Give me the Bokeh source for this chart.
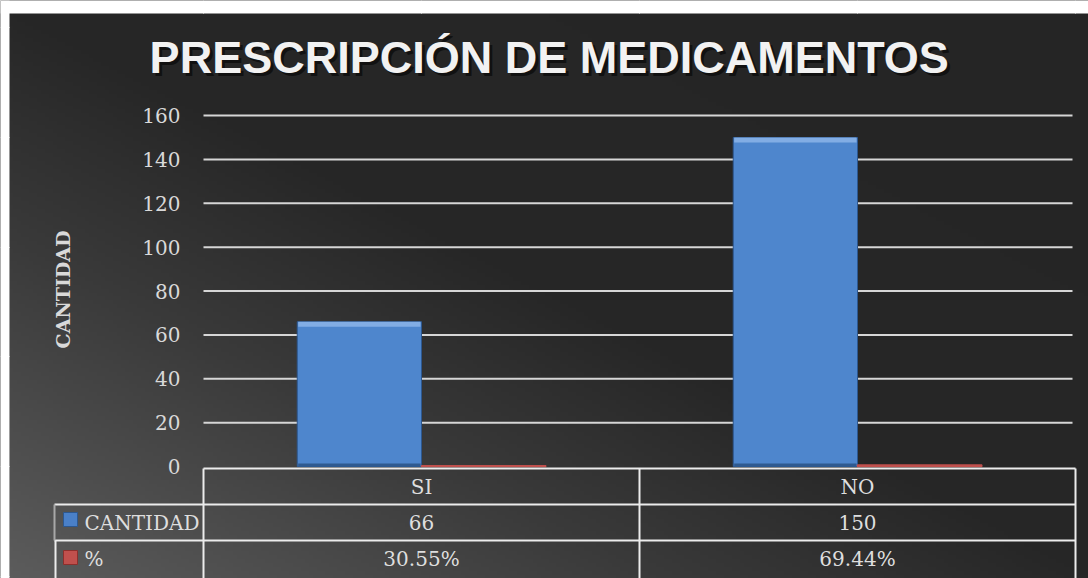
import numpy as np
from bokeh.plotting import figure
from bokeh.models import Range1d, LinearAxis, FixedTicker
from bokeh.core.properties import value
from bokeh.embed import file_html
from bokeh.resources import INLINE

# ---------------- data ----------------
categories = ["SI", "NO"]
cantidad = [66, 150]
porcentaje = [0.3055, 0.6944]
pct_labels = ["30.55%", "69.44%"]
series_names = ["CANTIDAD", "%"]
y_ticks = [0, 20, 40, 60, 80, 100, 120, 140, 160]
title_text = "PRESCRIPCIÓN  DE MEDICAMENTOS"
y_label = "CANTIDAD"

# ---------------- layout (page pixels -> data units) ----------------
W, H = 1088, 578
PAGE_X0, PAGE_Y0 = 0, 0
ZERO_X, CAT_PX = 203, 436      # page x of category axis start, px per category
ZERO_Y, UNIT_PX = 466, 2.193   # page y of value 0, px per value unit


def dx(px):
    return (px - ZERO_X) / CAT_PX


def dy(py):
    return (ZERO_Y - py) / UNIT_PX


x0, x1 = dx(PAGE_X0), dx(PAGE_X0 + W)
y0, y1 = dy(PAGE_Y0 + H), dy(PAGE_Y0)

p = figure(width=W, height=H, x_range=Range1d(x0, x1), y_range=Range1d(y0, y1),
           output_backend="svg", toolbar_location=None,
           x_axis_location=None, y_axis_location=None, min_border=0,
           outline_line_color=None, border_fill_color="#2a2a2a",
           background_fill_color="#2a2a2a")
p.title.visible = False

# background gradient (lighter bottom-left, dark top-right)
cx0, cy0 = dx(9), dy(13)
ny, nx = 142, 270
gx = np.linspace(0, 1, nx)[None, :]
gy = np.linspace(0, 1, ny)[:, None]
shade = np.interp(gx + gy, [0, 0.6, 1.0, 2.0], [92, 58, 39, 37]).astype(np.uint8)
img = np.empty((ny, nx), dtype=np.uint32)
view = img.view(dtype=np.uint8).reshape((ny, nx, 4))
view[..., 0] = shade
view[..., 1] = shade
view[..., 2] = shade
view[..., 3] = 255
p.image_rgba(image=[img], x=cx0, y=y0, dw=x1 - cx0, dh=cy0 - y0)

# white page around the chart (top and left)
p.quad(left=[x0, x0], right=[x1, cx0], bottom=[cy0, y0], top=[y1, y1],
       fill_color="white", line_color=None)

# horizontal gridlines
gt = y_ticks[1:]
p.segment(x0=[0] * len(gt), y0=gt, x1=[dx(1072)] * len(gt), y1=gt,
          line_color="#d6d6d6", line_width=2)

# bars
n = len(categories)
xs = np.arange(n) + 0.5
bw = 0.285
p.vbar(x=xs - bw / 2, top=cantidad, bottom=0, width=bw,
       fill_color="#4e86cd", line_color="#2d5890", line_width=1)
# bevel highlight / shadow strips
p.vbar(x=xs - bw / 2, top=cantidad, bottom=[v - 5 / UNIT_PX for v in cantidad],
       width=bw * 0.985, fill_color="#82ade4", line_color=None)
p.vbar(x=xs - bw / 2, top=[3 / UNIT_PX] * n, bottom=0, width=bw * 0.985,
       fill_color="#2f5a90", line_color=None)
p.vbar(x=xs + bw / 2, top=porcentaje, bottom=0, width=bw,
       fill_color="#c0504d", line_color="#c0504d", line_width=1.5)

# data table
lc = "#ececec"
r_top, r1, r2 = dy(468), dy(504), dy(540)
p.segment(x0=[0, dx(54), dx(54)], y0=[r_top, r1, r2], x1=[n, n, n], y1=[r_top, r1, r2],
          line_color=lc, line_width=2)
vx = list(range(n + 1))
p.segment(x0=vx, y0=[r_top] * len(vx), x1=vx, y1=[y0] * len(vx), line_color=lc, line_width=2)
p.segment(x0=[dx(54)], y0=[r1], x1=[dx(54)], y1=[r2], line_color="#a8a8a8", line_width=2)
p.segment(x0=[dx(55)], y0=[r2], x1=[dx(55)], y1=[y0], line_color=lc, line_width=2)

serif = value("DejaVu Serif")
tcol = "#dedede"
p.text(x=xs, y=[dy(486)] * n, text=categories, text_font=serif, text_font_size="20px",
       text_color=tcol, text_align="center", text_baseline="middle")
p.text(x=xs, y=[dy(522)] * n, text=[str(v) for v in cantidad], text_font=serif,
       text_font_size="20px", text_color=tcol, text_align="center", text_baseline="middle")
p.text(x=xs, y=[dy(558)] * n, text=pct_labels, text_font=serif, text_font_size="20px",
       text_color=tcol, text_align="center", text_baseline="middle")
p.text(x=[dx(84)] * 2, y=[dy(522), dy(558)], text=series_names, text_font=serif,
       text_font_size="20px", text_color=tcol, text_align="left", text_baseline="middle")
p.scatter(x=[dx(70)] * 2, y=[dy(519), dy(557)], marker="square", size=14,
          fill_color=["#4a80c8", "#c0504d"], line_color=["#2d5890", "#8c2f2c"], line_width=1)

# title with shadow
tx, ty = dx(555), dy(57)
p.text(x=[tx], y=[ty], text=[title_text], x_offset=3, y_offset=3,
       text_font=value("Liberation Sans"), text_font_style="bold", text_font_size="45px",
       text_color="black", text_alpha=0.55, text_align="center", text_baseline="alphabetic")
p.text(x=[tx], y=[ty], text=[title_text],
       text_font=value("Liberation Sans"), text_font_style="bold", text_font_size="45px",
       text_color="#f2f2f2", text_align="center", text_baseline="alphabetic")

# y axis placed at the category start
yaxis = LinearAxis(fixed_location=0, ticker=FixedTicker(ticks=y_ticks), axis_label=y_label)
yaxis.axis_line_color = None
yaxis.major_tick_line_color = None
yaxis.minor_tick_line_color = None
yaxis.major_tick_out = 0
yaxis.major_tick_in = 0
yaxis.major_label_standoff = 23
yaxis.major_label_text_font = "DejaVu Serif"
yaxis.major_label_text_font_size = "20px"
yaxis.major_label_text_color = "#d9d9d9"
yaxis.axis_label_text_font = "DejaVu Serif"
yaxis.axis_label_text_font_style = "bold"
yaxis.axis_label_text_font_size = "19px"
yaxis.axis_label_text_color = "#d9d9d9"
yaxis.axis_label_standoff = 65
p.add_layout(yaxis, "left")

open("out.html", "w").write(file_html(p, INLINE))
